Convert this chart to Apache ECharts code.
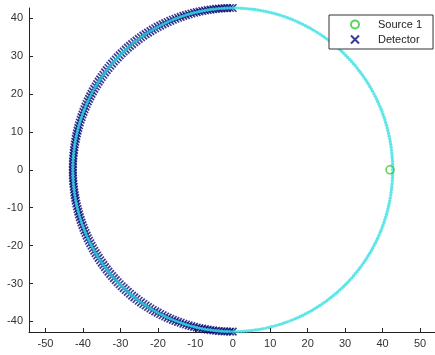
<!DOCTYPE html>
<html>
<head>
<meta charset="utf-8">
<script src="https://cdn.jsdelivr.net/npm/echarts@6/dist/echarts.min.js"></script>
<style>
  html, body { margin: 0; padding: 0; background: #fff; }
  #chart { width: 435px; height: 355px; }
</style>
</head>
<body>
<div id="chart"></div>
<script>
// Axis ticks and view window
const xTicks = [-50, -40, -30, -20, -10, 0, 10, 20, 30, 40, 50];
const yTicks = [-40, -30, -20, -10, 0, 10, 20, 30, 40];
const xRange = [-54.4, 54];
const yRange = [-42.8, 42.7];

// Ring of candidate positions (radius and angular spacing, degrees)
const ringRadius = 42.7;
const ringStepDeg = 1;

// Detector array: spans the left half of the ring
const detectorFromDeg = 90;
const detectorToDeg = 270;
const detectorStepDeg = 1;

// Source position
const source1 = [[42, 0]];

function ringPoints(fromDeg, toDeg, stepDeg, r) {
  const pts = [];
  for (let a = fromDeg; a <= toDeg + 1e-9; a += stepDeg) {
    const t = a * Math.PI / 180;
    pts.push([r * Math.cos(t), r * Math.sin(t)]);
  }
  return pts;
}

const ring = ringPoints(0, 360 - ringStepDeg, ringStepDeg, ringRadius);
const detectors = ringPoints(detectorFromDeg, detectorToDeg, detectorStepDeg, ringRadius);

const FONT = 'Liberation Sans, Arial, sans-serif';
const crossPath = 'path://M0,0L10,10M10,0L0,10';

const axisCommon = {
  type: 'value',
  axisLine: { show: true, onZero: false, lineStyle: { color: '#222', width: 1 } },
  axisTick: { show: true, inside: true, length: 4, lineStyle: { color: '#222' } },
  splitLine: { show: false },
  axisLabel: { color: '#333', fontSize: 11, fontFamily: FONT, margin: 6 }
};

const chart = echarts.init(document.getElementById('chart'), null, { renderer: 'canvas' });
chart.setOption({
  animation: false,
  backgroundColor: '#fff',
  grid: { left: 29, right: 0, top: 8, bottom: 23, containLabel: false },
  xAxis: Object.assign({}, axisCommon, {
    min: xRange[0], max: xRange[1],
    axisTick: Object.assign({}, axisCommon.axisTick, { customValues: xTicks }),
    axisLabel: Object.assign({}, axisCommon.axisLabel, { customValues: xTicks })
  }),
  yAxis: Object.assign({}, axisCommon, {
    min: yRange[0], max: yRange[1],
    axisTick: Object.assign({}, axisCommon.axisTick, { customValues: yTicks }),
    axisLabel: Object.assign({}, axisCommon.axisLabel, { customValues: yTicks })
  }),
  legend: {
    data: ['Source 1', 'Detector'],
    orient: 'vertical',
    left: 329, top: 15,
    padding: [4, 11, 4, 21],
    itemGap: 4,
    itemWidth: 36,
    itemHeight: 8,
    backgroundColor: '#fff',
    borderColor: '#333',
    borderWidth: 1,
    borderRadius: 0,
    textStyle: { color: '#222', fontSize: 11, fontFamily: FONT }
  },
  series: [
    {
      name: 'Source 1',
      type: 'scatter',
      data: source1,
      symbol: 'circle',
      symbolSize: 8,
      clip: false,
      z: 4,
      itemStyle: { color: 'rgba(0,0,0,0)', borderColor: '#2fcc2f', borderWidth: 1.6 }
    },
    {
      name: 'Detector',
      type: 'scatter',
      data: detectors,
      symbol: crossPath,
      symbolSize: 7.5,
      clip: false,
      z: 2,
      itemStyle: { color: 'rgba(0,0,0,0)', borderColor: '#0a0a7a', borderWidth: 1.6 }
    },
    {
      name: 'Ring',
      type: 'scatter',
      data: ring,
      symbol: 'circle',
      symbolSize: 3.4,
      clip: false,
      z: 3,
      itemStyle: { color: '#38e0e3' }
    }
  ]
});
</script>
</body>
</html>
